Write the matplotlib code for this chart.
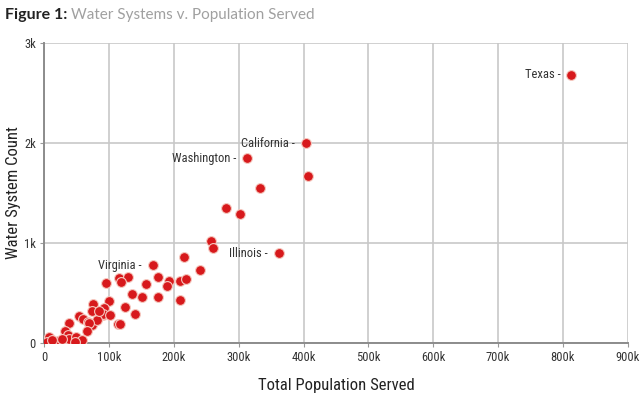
import matplotlib
matplotlib.use("Agg")
import matplotlib.pyplot as plt
from matplotlib.ticker import FixedLocator

# population served (thousands) and water system counts
population_k = [813, 404, 313, 407, 333, 280, 302, 257, 260, 362, 168,
                215, 240, 115, 130, 176, 118, 95, 157, 192, 190, 210, 219,
                136, 151, 175, 209, 100, 125, 140, 114, 76, 73, 92, 91, 53,
                60, 68, 73, 39, 32, 36, 39, 22, 8, 4, 90, 81, 69, 66, 49,
                58, 48, 85, 102, 117, 12, 28]
system_count = [2680, 2000, 1850, 1670, 1550, 1350, 1290, 1020, 950, 900, 780,
                857, 733, 650, 663, 663, 610, 597, 590, 617, 567, 623, 637,
                490, 457, 460, 430, 420, 363, 293, 187, 387, 317, 350, 277, 267,
                243, 213, 180, 197, 120, 80, 40, 20, 57, 13, 290, 235, 205, 125, 60,
                30, 15, 320, 280, 190, 30, 40]

labels = {"Texas": 0, "California": 1, "Washington": 2, "Illinois": 9, "Virginia": 10}

x_ticks = [0, 100, 200, 300, 400, 500, 600, 700, 800, 900]
x_tick_labels = ["0", "100k", "200k", "300k", "400k", "500k", "600k", "700k", "800k", "900k"]
y_ticks = [0, 1000, 2000, 3000]
y_tick_labels = ["0", "1k", "2k", "3k"]

plt.rcParams["font.family"] = ["Roboto Condensed", "DejaVu Sans"]

fig = plt.figure(figsize=(6.4, 3.98), dpi=100)
ax = fig.add_axes([0.069, 0.138, 0.912, 0.754])

ax.scatter(population_k, system_count, s=50, color="#d7191c",
           edgecolor="#f6c9c0", linewidth=0.8, zorder=3)

for name, i in labels.items():
    ax.annotate(name + " -", (population_k[i], system_count[i]),
                xytext=(-8, 0), textcoords="offset points",
                ha="right", va="center", fontsize=9, color="#333333", zorder=4)

ax.set_xlim(0, 900)
ax.set_ylim(0, 3000)
ax.xaxis.set_major_locator(FixedLocator(x_ticks))
ax.set_xticklabels(x_tick_labels)
ax.yaxis.set_major_locator(FixedLocator(y_ticks))
ax.set_yticklabels(y_tick_labels)
ax.tick_params(axis="both", labelsize=9, labelcolor="#333333", color="#999999",
               length=3, width=0.8, pad=3)
ax.grid(True, color="#c8c8c8", linewidth=1.2, zorder=0)
ax.set_axisbelow(True)
for s in ["top", "right"]:
    ax.spines[s].set_visible(False)
for s in ["left", "bottom"]:
    ax.spines[s].set_color("#8c8c8c")
    ax.spines[s].set_linewidth(1.4)

ax.set_xlabel("Total Population Served", fontsize=12, color="#222222", labelpad=10)
ax.set_ylabel("Water System Count", fontsize=12, color="#222222", labelpad=2)

t1 = fig.text(0.008, 0.962, "Figure 1:", fontsize=11.5, fontweight="bold",
              color="#222222", family="Lato", va="center")
fig.canvas.draw()
bb = t1.get_window_extent()
fig.text((bb.x1 + 4) / fig.bbox.width, 0.962, "Water Systems v. Population Served",
         fontsize=11, color="#a0a0a0", family="Lato", va="center")

fig.savefig("out.png", dpi=100)
